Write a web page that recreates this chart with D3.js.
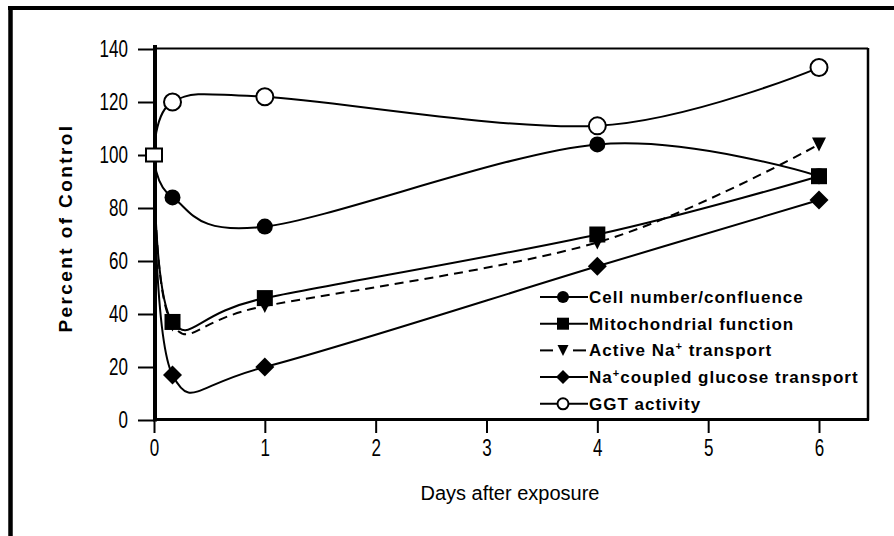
<!DOCTYPE html>
<html><head><meta charset="utf-8">
<script src="https://cdn.jsdelivr.net/npm/d3@7"></script>
<style>body{margin:0;background:#fff}svg{display:block}</style>
</head><body>
<svg id="c" width="894" height="536"></svg>
<script>
const days = [0, 0.167, 1, 4, 6];
const cellNumber = [100, 84, 73, 104, 92];
const mitochondrial = [100, 37, 46, 70, 92];
const activeNa = [100, 36, 43, 67, 104];
const glucose = [100, 17, 20, 58, 83];
const ggt = [100, 120, 122, 111, 133];
const controlDay = [0];
const controlValue = [100];
const xTicks = [0, 1, 2, 3, 4, 5, 6];
const yTicks = [0, 20, 40, 60, 80, 100, 120, 140];
const seriesNames = ["Cell number/confluence", "Mitochondrial function", "Active Na+ transport", "Na+coupled glucose transport", "GGT activity"];

const svg = d3.select("#c");
const x = d3.scaleLinear().domain([0, 6]).range([154, 819]);
const y = d3.scaleLinear().domain([0, 140]).range([420, 49]);

// outer frame
svg.append("line").attr("x1",10.5).attr("x2",10.5).attr("y1",6).attr("y2",536).attr("stroke","#000").attr("stroke-width",4.5);
svg.append("line").attr("x1",8).attr("x2",894).attr("y1",8).attr("y2",8).attr("stroke","#000").attr("stroke-width",4);

// plot frame
svg.append("line").attr("x1",x(0)).attr("x2",868).attr("y1",48.5).attr("y2",48.5).attr("stroke","#000").attr("stroke-width",2);
svg.append("line").attr("x1",868).attr("x2",868).attr("y1",48).attr("y2",420).attr("stroke","#000").attr("stroke-width",2.5);

const tickFont = "'Liberation Sans',Arial,sans-serif";
const tickSize = 23, squeeze = 0.74;
// y axis
const yAxis = svg.append("g").attr("transform","translate(155,0)")
  .call(d3.axisLeft(y).tickValues(yTicks).tickSize(17).tickPadding(10).tickFormat(d3.format("d")));
yAxis.select(".domain").remove();
yAxis.selectAll(".tick line").attr("stroke","#000").attr("stroke-width",2);
yAxis.selectAll(".tick text").each(function(){
  const t = d3.select(this); const xx = +t.attr("x");
  t.attr("x",0).attr("transform",`translate(${xx},0) scale(${squeeze},1)`);
}).attr("font-family",tickFont).attr("font-size",tickSize).attr("fill","#000");
svg.append("line").attr("x1",155).attr("x2",155).attr("y1",45).attr("y2",421.5).attr("stroke","#000").attr("stroke-width",4);

// x axis
const xAxis = svg.append("g").attr("transform","translate(0,420)")
  .call(d3.axisBottom(x).tickValues(xTicks).tickSize(13).tickPadding(7).tickFormat(d3.format("d")));
xAxis.select(".domain").remove();
xAxis.selectAll(".tick line").attr("stroke","#000").attr("stroke-width",2);
xAxis.selectAll(".tick text").each(function(){
  const t = d3.select(this); const yy = +t.attr("y");
  t.attr("y",0).attr("transform",`translate(0,${yy}) scale(${squeeze},1)`);
}).attr("font-family",tickFont).attr("font-size",tickSize).attr("fill","#000");
svg.append("line").attr("x1",153).attr("x2",869).attr("y1",419.5).attr("y2",419.5).attr("stroke","#000").attr("stroke-width",3);

// titles
svg.append("text").attr("x",510).attr("y",500).attr("text-anchor","middle")
  .attr("font-family","Arial,'Liberation Sans',sans-serif").attr("font-size",20).text("Days after exposure");
svg.append("text").attr("transform","translate(72,228) rotate(-90)").attr("text-anchor","middle")
  .attr("font-family","Arial,'Liberation Sans',sans-serif").attr("font-weight","bold").attr("font-size",19)
  .attr("letter-spacing",2.4).text("Percent of Control");

// marker shapes
function marker(g, type, size){
  const s = size;
  if(type==="circle") g.append("circle").attr("r",s/2).attr("fill","#000");
  else if(type==="square") g.append("rect").attr("x",-s/2).attr("y",-s/2).attr("width",s).attr("height",s).attr("fill","#000");
  else if(type==="tri") g.append("path").attr("d",`M${-s/2},${-s/2}L${s/2},${-s/2}L0,${s/2}Z`).attr("fill","#000");
  else if(type==="diamond") g.append("path").attr("d",`M0,${-s/2}L${s/2},0L0,${s/2}L${-s/2},0Z`).attr("fill","#000");
  else if(type==="open") g.append("circle").attr("r",s/2).attr("fill","#fff").attr("stroke","#000").attr("stroke-width",2);
}

const series = [
  {name: seriesNames[0], vals: cellNumber, type:"circle", size:16, dash:null},
  {name: seriesNames[1], vals: mitochondrial, type:"square", size:16, dash:null},
  {name: seriesNames[2], vals: activeNa, type:"tri", size:14, dash:"9,6"},
  {name: seriesNames[3], vals: glucose, type:"diamond", size:19, dash:null},
  {name: seriesNames[4], vals: ggt, type:"open", size:17, dash:null}
];

const line = d3.line().x(d=>x(d[0])).y(d=>y(d[1])).curve(d3.curveCardinal.tension(0));
series.forEach(s=>{
  const pts = days.map((d,i)=>[d, s.vals[i]]);
  svg.append("path").attr("d", line(pts)).attr("fill","none").attr("stroke","#000")
    .attr("stroke-width",2).attr("stroke-dasharray", s.dash);
});
series.forEach(s=>{
  days.forEach((d,i)=>{
    if(d===0) return;
    const g = svg.append("g").attr("transform",`translate(${x(d)},${y(s.vals[i])})`);
    marker(g, s.type, s.size);
  });
});
// control open square
controlDay.forEach((d,i)=>{
  svg.append("rect").attr("x",x(d)-8).attr("y",y(controlValue[i])-6.5).attr("width",16).attr("height",13)
    .attr("fill","#fff").attr("stroke","#000").attr("stroke-width",2);
});

// legend
const leg = svg.append("g");
const legSize = {circle:12, square:12, tri:11, diamond:14, open:11};
series.forEach((s,i)=>{
  const yy = 297 + i*26.7;
  if(s.dash){
    leg.append("line").attr("x1",540).attr("x2",553).attr("y1",yy).attr("y2",yy).attr("stroke","#000").attr("stroke-width",2);
    leg.append("line").attr("x1",573).attr("x2",586).attr("y1",yy).attr("y2",yy).attr("stroke","#000").attr("stroke-width",2);
  } else {
    leg.append("line").attr("x1",540).attr("x2",588).attr("y1",yy).attr("y2",yy).attr("stroke","#000").attr("stroke-width",2);
  }
  const g = leg.append("g").attr("transform",`translate(563,${yy})`);
  marker(g, s.type, legSize[s.type]);
  const t = leg.append("text").attr("x",589).attr("y",yy+6).attr("font-family","Arial,'Liberation Sans',sans-serif")
    .attr("font-weight","bold").attr("font-size",17).attr("letter-spacing",1);
  const parts = s.name.split("+");
  parts.forEach((p,j)=>{
    t.append("tspan").attr("dy", j>0 ? 6 : null).text(p);
    if(j<parts.length-1) t.append("tspan").attr("dy",-6).attr("font-size",11).text("+");
  });
});
</script>
</body></html>
